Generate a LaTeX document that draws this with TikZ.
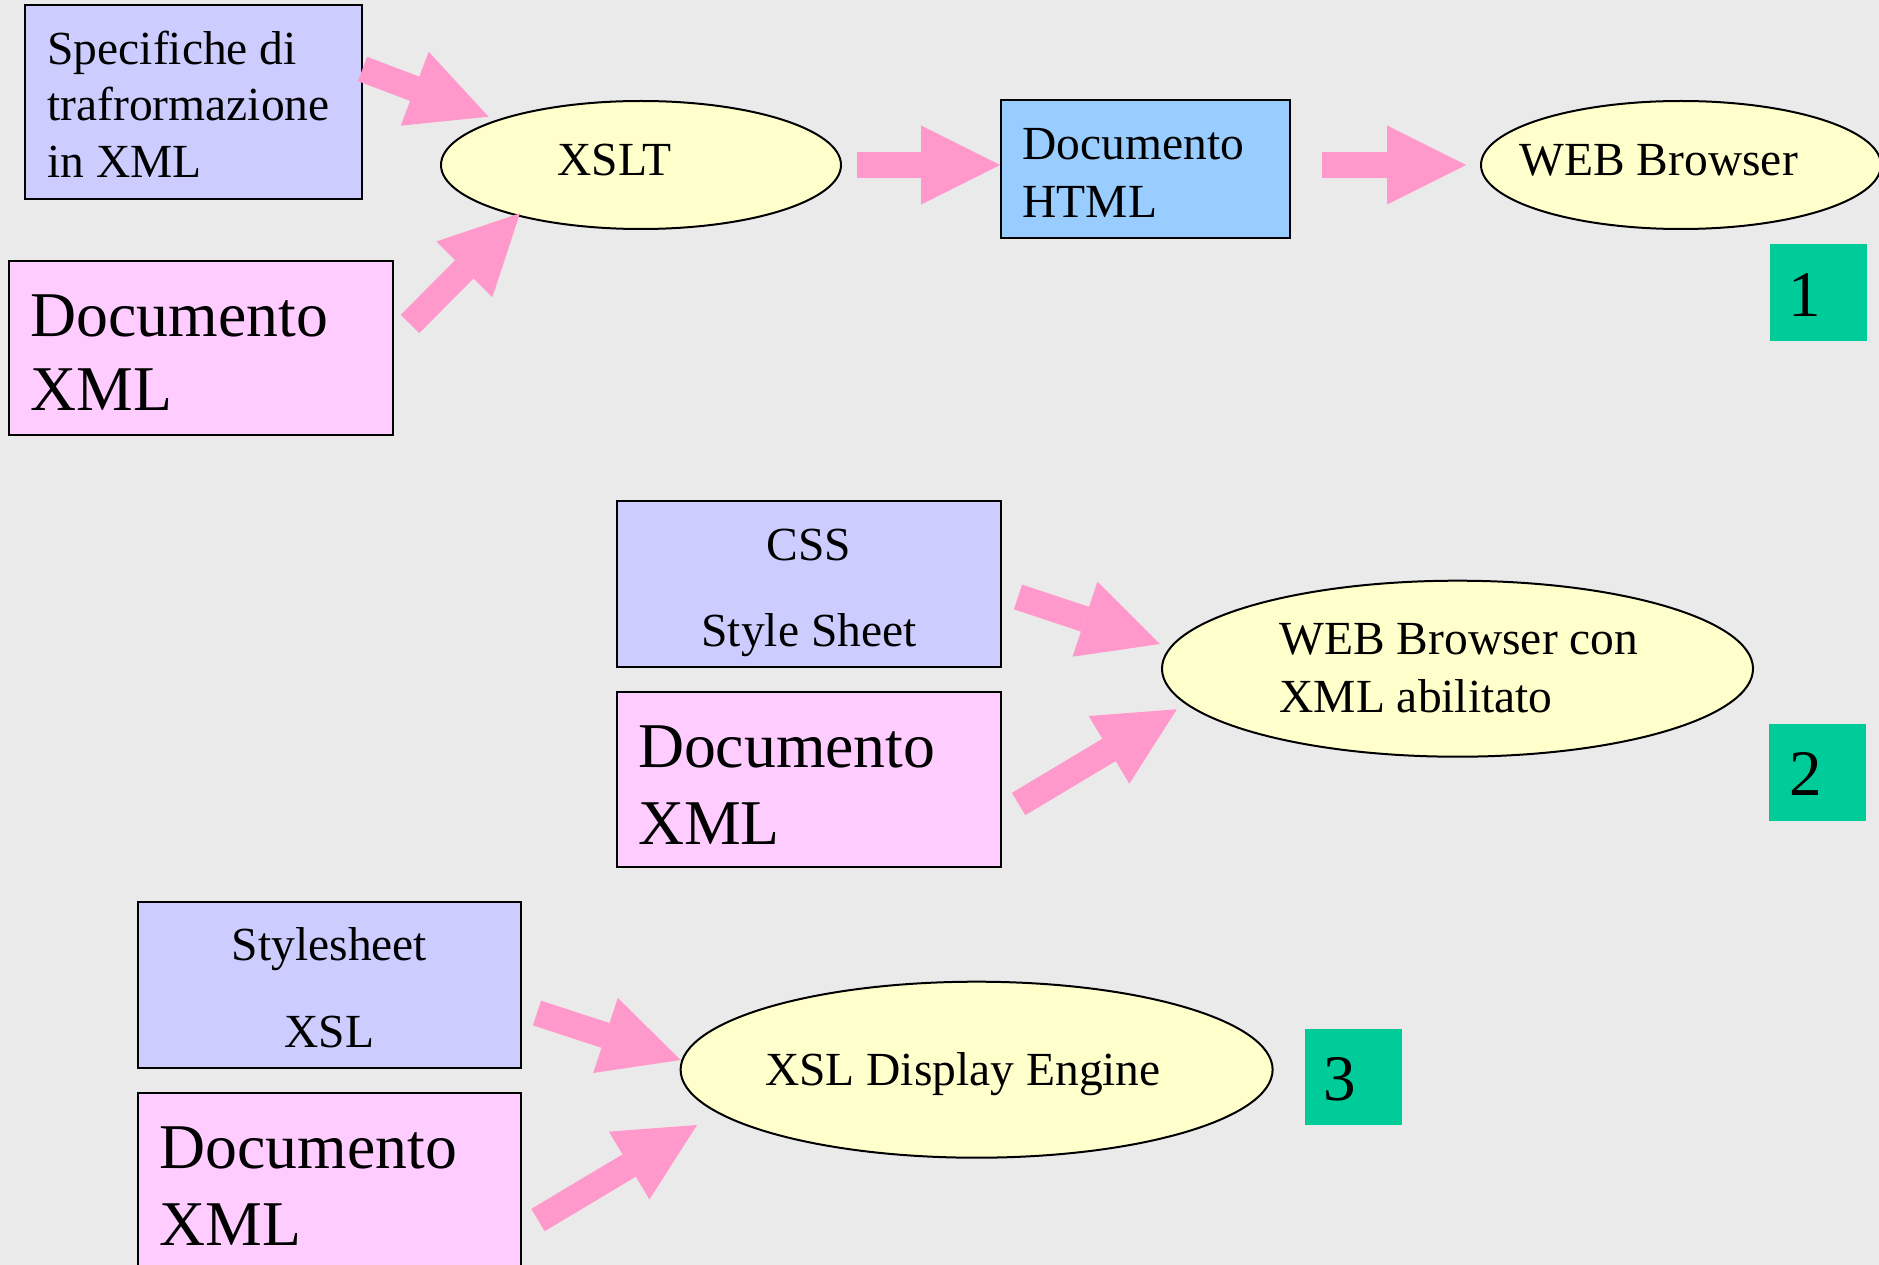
\documentclass[tikz,border=0pt]{standalone}
\usepackage{fontspec}
\setmainfont{Liberation Serif}
\usetikzlibrary{shapes.geometric,arrows.meta}
\definecolor{bgc}{HTML}{EAEAEA}
\definecolor{lav}{HTML}{CCCCFF}
\definecolor{pinkbox}{HTML}{FFCCFF}
\definecolor{bluebox}{HTML}{99CCFF}
\definecolor{yell}{HTML}{FFFFCC}
\definecolor{arrowpink}{HTML}{FF99CC}
\definecolor{greenbox}{HTML}{00CC99}
\tikzset{
  boxnode/.style={rectangle, draw=black, line width=0.8pt, inner sep=0pt},
  ellnode/.style={ellipse, draw=black, line width=0.8pt, fill=yell, inner sep=0pt},
  greennode/.style={rectangle, fill=greenbox, inner sep=0pt, minimum width=38.8pt, minimum height=38.6pt},
  txts/.style={font=\fontsize{19}{22}\selectfont, inner sep=0pt, yshift=-1.1pt},
  txtb/.style={font=\fontsize{25.5}{30}\selectfont, inner sep=0pt, yshift=-1.2pt},
  txtn/.style={font=\fontsize{26}{30}\selectfont, inner sep=0pt},
  blockarrow/.style={draw=arrowpink, line width=10.4pt, -{Triangle[length=31.6pt, width=31.6pt, line width=0pt]}}
}
\begin{document}
\begin{tikzpicture}[x=0.4pt,y=-0.4pt]
\useasboundingbox (0,0) rectangle (1879,1265);
\clip (0,0) rectangle (1879,1265);
\fill[bgc] (0,0) rectangle (1879,1265);

% ---------- Section 1 ----------
\node[boxnode, fill=lav, minimum width=134.8pt, minimum height=77.6pt] (spec) at (193.5,102) {};
\node[txts, anchor=base west] (spect1) at (47,62) {Specifiche di};
\node[txts, anchor=base west] (spect2) at (47,118) {trafrormazione};
\node[txts, anchor=base west] (spect3) at (47,175) {in XML};

\node[boxnode, fill=pinkbox, minimum width=153.6pt, minimum height=69.6pt] (xmla) at (201,348) {};
\node[txtb, anchor=base west] (xmlat1) at (30,333) {Documento};
\node[txtb, anchor=base west] (xmlat2) at (30,408) {XML};

\node[ellnode, minimum width=160pt, minimum height=51.2pt] (xslt) at (641,165) {};
\node[txts, anchor=base west] (xsltt) at (557,173) {XSLT};

\node[boxnode, fill=bluebox, minimum width=115.6pt, minimum height=55.2pt] (html) at (1145.5,169) {};
\node[txts, anchor=base west] (htmlt1) at (1022,157) {Documento};
\node[txts, anchor=base west] (htmlt2) at (1022,215) {HTML};

\node[ellnode, minimum width=160pt, minimum height=51.2pt] (weba) at (1681,165) {};
\node[txts, anchor=base west] (webat) at (1519,173) {WEB Browser};

\node[greennode] (g1) at (1818.5,292.5) {};
\node[txtn, anchor=base] (g1t) at (1805,317) {1};

\coordinate (a1s) at (362.5,69);   \coordinate (a1e) at (488.6,116.7);
\coordinate (a2s) at (410,324);    \coordinate (a2e) at (520,213.3);
\coordinate (a3s) at (857,165);    \coordinate (a3e) at (1000,165);
\coordinate (a4s) at (1322,165);   \coordinate (a4e) at (1466,165);
\draw[blockarrow] (a1s) -- (a1e);
\draw[blockarrow] (a2s) -- (a2e);
\draw[blockarrow] (a3s) -- (a3e);
\draw[blockarrow] (a4s) -- (a4e);

% ---------- Section 2 ----------
\node[boxnode, fill=lav, minimum width=153.6pt, minimum height=66.4pt] (css) at (809,584) {};
\node[txts, anchor=base] (csst1) at (809,558) {CSS};
\node[txts, anchor=base] (csst2) at (809,644) {Style Sheet};

\node[boxnode, fill=pinkbox, minimum width=153.6pt, minimum height=70pt] (xmlb) at (809,779.5) {};
\node[txtb, anchor=base west] (xmlbt1) at (637.5,764) {Documento};
\node[txtb, anchor=base west] (xmlbt2) at (637.5,841) {XML};

\node[ellnode, minimum width=236.4pt, minimum height=70.4pt] (webb) at (1457.5,668.7) {};
\node[txts, anchor=base west] (webbt1) at (1279,652) {WEB Browser con};
\node[txts, anchor=base west] (webbt2) at (1279,710) {XML abilitato};

\node[greennode] (g2) at (1817.5,772.5) {};
\node[txtn, anchor=base] (g2t) at (1806,795) {2};

\coordinate (a5s) at (1018,597);    \coordinate (a5e) at (1160,644);
\coordinate (a6s) at (1018.6,804);  \coordinate (a6e) at (1176.8,709.3);
\draw[blockarrow] (a5s) -- (a5e);
\draw[blockarrow] (a6s) -- (a6e);

% ---------- Section 3 ----------
\node[boxnode, fill=lav, minimum width=153.2pt, minimum height=66.4pt] (xsl) at (329.5,985) {};
\node[txts, anchor=base] (xslt1) at (329.5,958) {Stylesheet};
\node[txts, anchor=base] (xslt2) at (329.5,1045) {XSL};

\node[boxnode, fill=pinkbox, minimum width=153.2pt, minimum height=70pt] (xmlc) at (329.5,1180.5) {};
\node[txtb, anchor=base west] (xmlct1) at (159,1165) {Documento};
\node[txtb, anchor=base west] (xmlct2) at (159,1242) {XML};

\node[ellnode, minimum width=236.8pt, minimum height=70.4pt] (engine) at (976.6,1069.7) {};
\node[txts, anchor=base west] (enginet) at (764.5,1083) {XSL Display Engine};

\node[greennode] (g3) at (1353.5,1077) {};
\node[txtn, anchor=base] (g3t) at (1340,1100) {3};

\coordinate (a7s) at (537,1013);   \coordinate (a7e) at (680.6,1060);
\coordinate (a8s) at (538,1220);   \coordinate (a8e) at (697,1125);
\draw[blockarrow] (a7s) -- (a7e);
\draw[blockarrow] (a8s) -- (a8e);
\end{tikzpicture}
\end{document}
